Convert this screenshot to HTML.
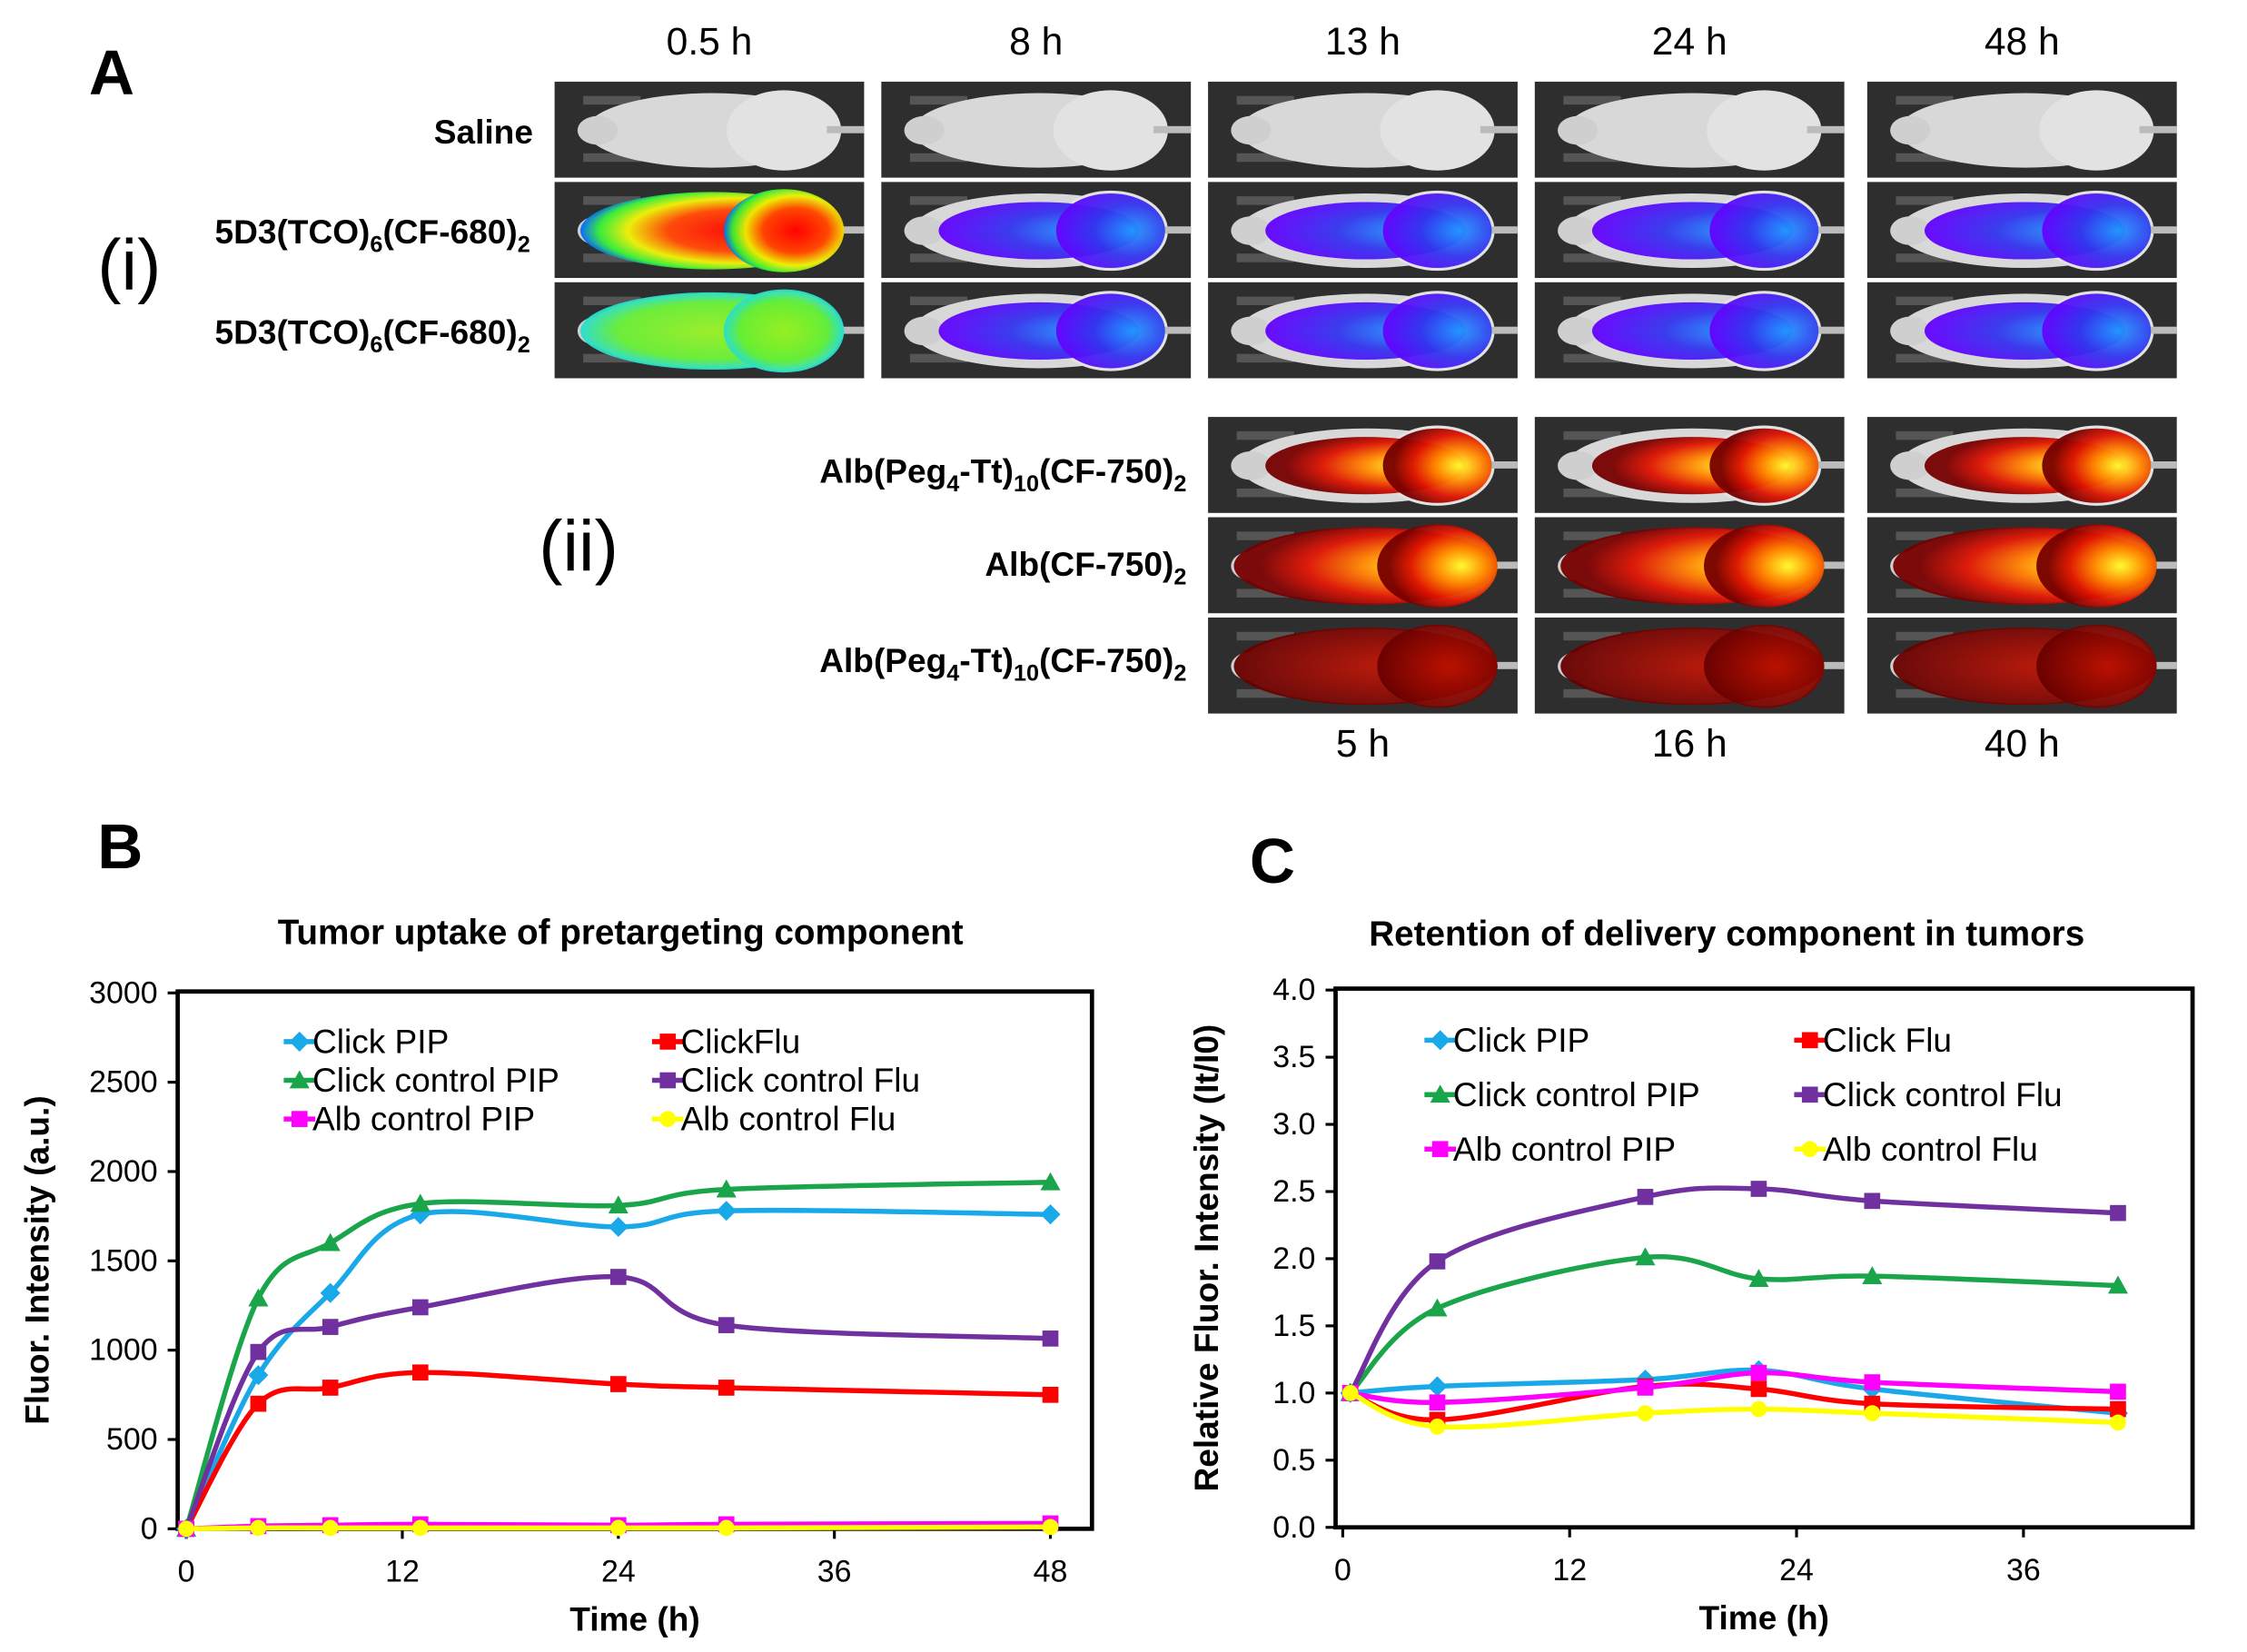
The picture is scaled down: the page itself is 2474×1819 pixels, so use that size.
<!DOCTYPE html>
<html><head><meta charset="utf-8"><style>
html,body{margin:0;padding:0;background:#fff}
svg{display:block}
text{font-family:"Liberation Sans",Arial,sans-serif}
</style></head><body>
<svg id="fig" width="2474" height="1819" viewBox="0 0 1568 1153" preserveAspectRatio="none" xmlns="http://www.w3.org/2000/svg">
<defs>
<radialGradient id="gHot" cx="0.6" cy="0.5" r="0.6"><stop offset="0" stop-color="#f00"/><stop offset="0.45" stop-color="#f40"/><stop offset="0.7" stop-color="#ee0"/><stop offset="0.88" stop-color="#3e3"/><stop offset="1" stop-color="#06f"/></radialGradient>
<radialGradient id="gGreen" cx="0.5" cy="0.5" r="0.6"><stop offset="0" stop-color="#9e2"/><stop offset="0.6" stop-color="#6e3"/><stop offset="0.85" stop-color="#2dd"/><stop offset="1" stop-color="#22f"/></radialGradient>
<radialGradient id="gBlue" cx="0.7" cy="0.5" r="0.7"><stop offset="0" stop-color="#29f"/><stop offset="0.5" stop-color="#33e"/><stop offset="1" stop-color="#60f"/></radialGradient>
<radialGradient id="gFire" cx="0.7" cy="0.5" r="0.6"><stop offset="0" stop-color="#ff3"/><stop offset="0.35" stop-color="#f80"/><stop offset="0.7" stop-color="#d10"/><stop offset="1" stop-color="#700"/></radialGradient>
<radialGradient id="gDark" cx="0.6" cy="0.5" r="0.6"><stop offset="0" stop-color="#b10"/><stop offset="1" stop-color="#600"/></radialGradient>
</defs>
<g id="panelA"></g>
<g id="chartB"></g>
<g id="chartC"></g>
</svg>
<script>
const NS="http://www.w3.org/2000/svg";
function el(tag,attrs,parent,txt){const e=document.createElementNS(NS,tag);for(const k in attrs)e.setAttribute(k,attrs[k]);if(txt!==undefined)e.textContent=txt;parent.appendChild(e);return e;}
const A=document.getElementById('panelA');
let t=el('text',{x:62,y:66,'font-size':44,'font-weight':'bold'},A,'A');


const colX=[387,615,843,1071,1303];
const topTimes=['0.5 h','8 h','13 h','24 h','48 h'];
topTimes.forEach((s,i)=>{const e=el('text',{x:colX[i]+108,y:38,'font-size':27,'text-anchor':'middle'},A,s);

});
const botTimes=['5 h','16 h','40 h'];
botTimes.forEach((s,i)=>{const e=el('text',{x:colX[i+2]+108,y:528,'font-size':27,'text-anchor':'middle'},A,s);

});
function mouse(x,y,fill,glow){
  const g=el('g',{},A);
  
  
  el('rect',{x:x,y:y,width:216,height:67,fill:'#2e2e2e'},g);
  el('rect',{x:x+20,y:y+10,width:40,height:6,fill:'#555'},g);
  el('rect',{x:x+20,y:y+50,width:40,height:6,fill:'#555'},g);
  el('ellipse',{cx:x+110,cy:y+34,rx:88,ry:26,fill:'#d8d8d8'},g);
  el('ellipse',{cx:x+160,cy:y+34,rx:40,ry:28,fill:'#e2e2e2'},g);
  el('ellipse',{cx:x+30,cy:y+34,rx:14,ry:10,fill:'#cfcfcf'},g);
  el('rect',{x:x+190,y:y+31,width:26,height:5,fill:'#bbb'},g);
  if(fill){
    el('ellipse',{cx:x+110,cy:y+34,rx:glow?92:70,ry:glow?27:20,fill:fill,opacity:0.95},g);
    if(!glow)el('ellipse',{cx:x+160,cy:y+34,rx:38,ry:26,fill:fill,opacity:0.95},g);
    else el('ellipse',{cx:x+160,cy:y+34,rx:42,ry:29,fill:fill,opacity:0.95},g);
  }
}
const rowY=[57,127,197];
for(let i=0;i<5;i++){mouse(colX[i],rowY[0],null);}
const r1=['url(#gHot)','url(#gBlue)','url(#gBlue)','url(#gBlue)','url(#gBlue)'];
const r2=['url(#gGreen)','url(#gBlue)','url(#gBlue)','url(#gBlue)','url(#gBlue)'];
for(let i=0;i<5;i++){mouse(colX[i],rowY[1],r1[i],i==0);mouse(colX[i],rowY[2],r2[i],i==0);}
const row2Y=[291,361,431];
for(let i=2;i<5;i++){mouse(colX[i],row2Y[0],'url(#gFire)',false);mouse(colX[i],row2Y[1],'url(#gFire)',true);mouse(colX[i],row2Y[2],'url(#gDark)',true);}
function lbl(x,y,html,name){const e=el('text',{x:x,y:y,'font-size':23.5,'font-weight':'bold','text-anchor':'end'},A);e.innerHTML=html;

}
lbl(372,100,'Saline','row-label-saline');
lbl(370,170,'5D3(TCO)<tspan font-size="16" dy="6">6</tspan><tspan dy="-6">(CF-680)</tspan><tspan font-size="16" dy="6">2</tspan>','row-label-5d3-a');
lbl(370,240,'5D3(TCO)<tspan font-size="16" dy="6">6</tspan><tspan dy="-6">(CF-680)</tspan><tspan font-size="16" dy="6">2</tspan>','row-label-5d3-b');
lbl(828,337,'Alb(Peg<tspan font-size="16" dy="6">4</tspan><tspan dy="-6">-Tt)</tspan><tspan font-size="16" dy="6">10</tspan><tspan dy="-6">(CF-750)</tspan><tspan font-size="16" dy="6">2</tspan>','row-label-alb-peg-a');
lbl(828,402,'Alb(CF-750)<tspan font-size="16" dy="6">2</tspan>','row-label-alb');
lbl(828,469,'Alb(Peg<tspan font-size="16" dy="6">4</tspan><tspan dy="-6">-Tt)</tspan><tspan font-size="16" dy="6">10</tspan><tspan dy="-6">(CF-750)</tspan><tspan font-size="16" dy="6">2</tspan>','row-label-alb-peg-b');
t=el('text',{x:68,y:202,'font-size':50},A,'(i)');


t=el('text',{x:376,y:398,'font-size':50},A,'(ii)');



const timesB=[0,4,8,13,24,30,48];
const clickPipB=[0,860,1320,1760,1690,1780,1760];
const clickFluB=[0,700,790,875,810,790,750];
const ctrlPipB=[0,1290,1600,1820,1810,1900,1940];
const ctrlFluB=[0,990,1130,1240,1410,1140,1065];
const albPipB=[0,15,20,25,20,25,30];
const albFluB=[0,5,5,5,5,5,10];
const xTicksB=[0,12,24,36,48];
const yTicksB=[0,500,1000,1500,2000,2500,3000];
const timesC=[0.4,5,16,22,28,41];
const clickPipC=[1.0,1.05,1.1,1.17,1.03,0.85];
const clickFluC=[1.0,0.8,1.05,1.03,0.92,0.88];
const ctrlPipC=[1.0,1.63,2.01,1.85,1.87,1.8];
const ctrlFluC=[1.0,1.98,2.46,2.52,2.43,2.34];
const albPipC=[1.0,0.93,1.04,1.15,1.08,1.01];
const albFluC=[1.0,0.75,0.85,0.88,0.85,0.78];
const xTicksC=[0,12,24,36];
const yTicksC=[0,0.5,1.0,1.5,2.0,2.5,3.0,3.5,4.0];

function smooth(pts){let d='M'+pts[0][0]+','+pts[0][1];
 for(let i=0;i<pts.length-1;i++){const p0=pts[Math.max(0,i-1)],p1=pts[i],p2=pts[i+1],p3=pts[Math.min(pts.length-1,i+2)];
 const c1=[p1[0]+(p2[0]-p0[0])/6,p1[1]+(p2[1]-p0[1])/6],c2=[p2[0]-(p3[0]-p1[0])/6,p2[1]-(p3[1]-p1[1])/6];
 d+=` C${c1[0]},${c1[1]} ${c2[0]},${c2[1]} ${p2[0]},${p2[1]}`;}return d;}
function marker(g,type,x,y,c,s){
 if(type=='d')el('polygon',{points:`${x},${y-s} ${x+s},${y} ${x},${y+s} ${x-s},${y}`,fill:c},g);
 else if(type=='s')el('rect',{x:x-s*0.8,y:y-s*0.8,width:s*1.6,height:s*1.6,fill:c},g);
 else if(type=='t')el('polygon',{points:`${x},${y-s} ${x+s},${y+s*0.8} ${x-s},${y+s*0.8}`,fill:c},g);
 else el('circle',{cx:x,cy:y,r:s*0.8,fill:c},g);}

function chart(root,cfg){
 const {L,T,R,B,x0,x1,xmin,xmax,ymax,xt,yt,fmt}=cfg;
 const X=v=>x0+(v-xmin)/(xmax-xmin)*(x1-x0);
 const Y=v=>B-v/ymax*(B-T-1);
 let e=el('rect',{x:L,y:T,width:R-L,height:B-T,fill:'none',stroke:'#000','stroke-width':3},root);
 
 
 yt.forEach(v=>{el('line',{x1:L-7,x2:L,y1:Y(v),y2:Y(v),stroke:'#000','stroke-width':2},root);
  const tx=el('text',{x:L-14,y:Y(v)+7,'font-size':21.5,'text-anchor':'end'},root,fmt(v));
  
  });
 xt.forEach(v=>{el('line',{x1:X(v),x2:X(v),y1:B,y2:B+7,stroke:'#000','stroke-width':2},root);
  const tx=el('text',{x:X(v),y:B+37,'font-size':21.5,'text-anchor':'middle'},root,String(v));
  
  });
 cfg.series.forEach(s=>{
  const g=el('g',{},root);
  
  
  const pts=s.v.map((v,i)=>[X(cfg.t[i]),Y(v)]);
  el('path',{d:smooth(pts),fill:'none',stroke:s.c,'stroke-width':3.5},g);
  pts.forEach(p=>marker(g,s.m,p[0],p[1],s.c,7));});
 cfg.series.forEach((s,i)=>{
  const lx=cfg.lx[i%2],ly=cfg.ly+Math.floor(i/2)*cfg.lgap;
  const g=el('g',{},root);
  
  
  el('line',{x1:lx,x2:lx+22,y1:ly,y2:ly,stroke:s.c,'stroke-width':3.5},g);
  marker(g,s.m,lx+11,ly,s.c,7);
  el('text',{x:lx+20,y:ly+8,'font-size':23.5},g,s.n);});
 e=el('text',{x:cfg.tx,y:cfg.ty,'font-size':24.5,'font-weight':'bold','text-anchor':'middle'},root,cfg.title);
 
 
 e=el('text',{x:(L+R)/2,y:B+71,'font-size':23.5,'font-weight':'bold','text-anchor':'middle'},root,'Time (h)');
 
 
 e=el('text',{x:0,y:0,'font-size':23.5,'font-weight':'bold','text-anchor':'middle',transform:`translate(${cfg.yx},${(T+B)/2}) rotate(-90)`},root,cfg.ytitle);
 
 
 e=el('text',{x:cfg.px,y:cfg.py,'font-size':44,'font-weight':'bold'},root,cfg.plabel);
 
 
}
chart(document.getElementById('chartB'),{L:124,T:692,R:762,B:1067,x0:130,x1:733,xmin:0,xmax:48,ymax:3000,
 xt:xTicksB,yt:yTicksB,fmt:v=>String(v),t:timesB,lx:[198,455],ly:727,lgap:27,
 title:'Tumor uptake of pretargeting component',tx:433,ty:659,ytitle:'Fluor. Intensity (a.u.)',yx:34,plabel:'B',px:68,py:606,
 series:[{n:'Click PIP',v:clickPipB,c:'#1aa9e8',m:'d'},{n:'ClickFlu',v:clickFluB,c:'#f00',m:'s'},
 {n:'Click control PIP',v:ctrlPipB,c:'#1aa54a',m:'t'},{n:'Click control Flu',v:ctrlFluB,c:'#7030a0',m:'s'},
 {n:'Alb control PIP',v:albPipB,c:'#f0f',m:'s'},{n:'Alb control Flu',v:albFluB,c:'#ff0',m:'c'}]});
chart(document.getElementById('chartC'),{L:932,T:690,R:1530,B:1066,x0:937,x1:1412,xmin:0,xmax:36,ymax:4.0,
 xt:xTicksC,yt:yTicksC,fmt:v=>v.toFixed(1),t:timesC,lx:[994,1252],ly:726,lgap:38,
 title:'Retention of delivery component in tumors',tx:1205,ty:660,ytitle:'Relative Fluor. Intensity (It/I0)',yx:850,plabel:'C',px:872,py:616,
 series:[{n:'Click PIP',v:clickPipC,c:'#1aa9e8',m:'d'},{n:'Click Flu',v:clickFluC,c:'#f00',m:'s'},
 {n:'Click control PIP',v:ctrlPipC,c:'#1aa54a',m:'t'},{n:'Click control Flu',v:ctrlFluC,c:'#7030a0',m:'s'},
 {n:'Alb control PIP',v:albPipC,c:'#f0f',m:'s'},{n:'Alb control Flu',v:albFluC,c:'#ff0',m:'c'}]});
</script>
</body></html>
